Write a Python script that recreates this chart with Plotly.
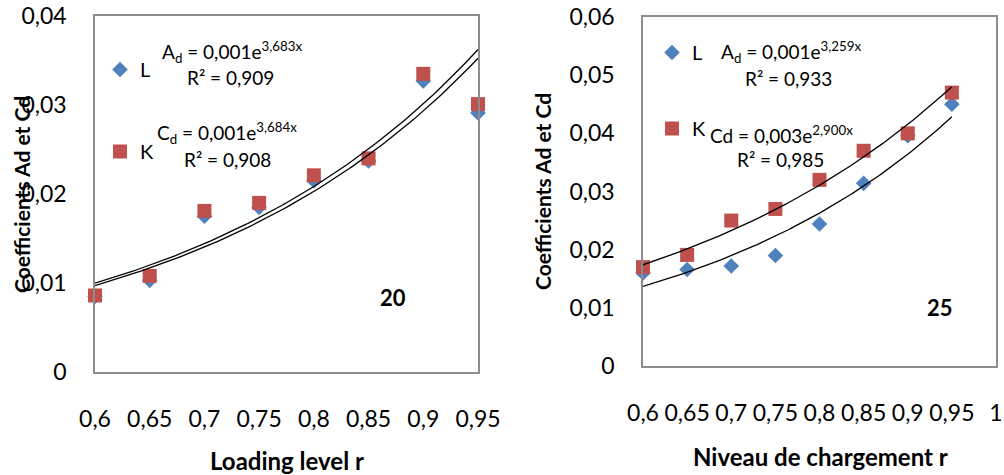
import numpy as np
import plotly.graph_objects as go

# Loading level r (shared by both panels)
r_values = [0.60, 0.65, 0.70, 0.75, 0.80, 0.85, 0.90, 0.95]

# Panel "20": coefficients Ad (L) and Cd (K)
ad_20 = [0.0085, 0.0103, 0.0175, 0.0185, 0.0215, 0.0237, 0.0327, 0.0291]
cd_20 = [0.0086, 0.0108, 0.0181, 0.0190, 0.0221, 0.0240, 0.0335, 0.0301]

# Panel "25": coefficients Ad (L) and Cd (K)
ad_25 = [0.0160, 0.0166, 0.0172, 0.0190, 0.0244, 0.0314, 0.0396, 0.0450]
cd_25 = [0.0170, 0.0191, 0.0250, 0.0270, 0.0320, 0.0370, 0.0400, 0.0470]

# Exponential trendline exponents (y = a * exp(b * r))
b_20 = [3.683, 3.684]
b_25 = [3.259, 2.900]

# Tick labels
x_ticks_20 = [0.60, 0.65, 0.70, 0.75, 0.80, 0.85, 0.90, 0.95]
x_text_20 = ["0,6", "0,65", "0,7", "0,75", "0,8", "0,85", "0,9", "0,95"]
y_ticks_20 = [0, 0.01, 0.02, 0.03, 0.04]
y_text_20 = ["0", "0,01", "0,02", "0,03", "0,04"]
x_ticks_25 = [0.60, 0.65, 0.70, 0.75, 0.80, 0.85, 0.90, 0.95, 1.0]
x_text_25 = ["0,6", "0,65", "0,7", "0,75", "0,8", "0,85", "0,9", "0,95", "1"]
y_ticks_25 = [0, 0.01, 0.02, 0.03, 0.04, 0.05, 0.06]
y_text_25 = ["0", "0,01", "0,02", "0,03", "0,04", "0,05", "0,06"]

BLUE = "#4F81BD"
RED = "#C0504D"
FONT = "Lato"
W, H = 1004, 475


def exp_trend(x, y, b):
    """Least-squares prefactor for y = a*exp(b*x) in log space."""
    x = np.asarray(x)
    y = np.asarray(y)
    a = np.exp(np.mean(np.log(y) - b * x))
    xs = np.linspace(x.min(), x.max(), 120)
    return xs, a * np.exp(b * xs)


def px_x(p):
    return p / W


def px_y(p):
    return 1 - p / H


fig = go.Figure()

panels = [
    ("x", "y", "legend", ad_20, cd_20, b_20),
    ("x2", "y2", "legend2", ad_25, cd_25, b_25),
]
for xa, ya, leg, ad, cd, bs in panels:
    fig.add_trace(go.Scatter(
        x=r_values, y=ad, mode="markers", name="L", legendgroup="L" + xa,
        legend=leg, xaxis=xa, yaxis=ya, cliponaxis=False,
        marker=dict(symbol="diamond", size=12, color=BLUE)))
    fig.add_trace(go.Scatter(
        x=r_values, y=cd, mode="markers", name="K", legendgroup="K" + xa,
        legend=leg, xaxis=xa, yaxis=ya, cliponaxis=False,
        marker=dict(symbol="square", size=14, color=RED)))
    for series, b in zip((ad, cd), bs):
        tx, ty = exp_trend(r_values, series, b)
        fig.add_trace(go.Scatter(
            x=tx, y=ty, mode="lines", showlegend=False, xaxis=xa, yaxis=ya,
            hoverinfo="skip", line=dict(color="black", width=1.3)))

axis_common = dict(
    showgrid=False, zeroline=False, showline=True, linecolor="#8c8c8c",
    linewidth=1.5, mirror=True, ticks="", tickmode="array", automargin=False,
    tickfont=dict(family=FONT, size=23, color="black"),
)

fig.update_layout(
    template="none",
    width=W, height=H,
    margin=dict(l=0, r=0, t=0, b=0, pad=0, autoexpand=False),
    paper_bgcolor="white", plot_bgcolor="white",
    font=dict(family=FONT, color="black"),
    xaxis=dict(axis_common, domain=[px_x(95), px_x(478)], range=[0.6, 0.95],
               tickvals=x_ticks_20, ticktext=x_text_20, anchor="y",
               ticklabelstandoff=26),
    yaxis=dict(axis_common, domain=[px_y(372), px_y(16)], range=[0, 0.04],
               tickvals=y_ticks_20, ticktext=y_text_20, anchor="x",
               ticklabelstandoff=22),
    xaxis2=dict(axis_common, domain=[px_x(643), px_x(996)], range=[0.6, 1.0],
                tickvals=x_ticks_25, ticktext=x_text_25, anchor="y2",
                ticklabelstandoff=26),
    yaxis2=dict(axis_common, domain=[px_y(366), px_y(17)], range=[0, 0.06],
                tickvals=y_ticks_25, ticktext=y_text_25, anchor="x2",
                ticklabelstandoff=22),
    legend=dict(x=px_x(100), y=px_y(50), xanchor="left", yanchor="top",
                traceorder="grouped", tracegroupgap=53, borderwidth=0,
                bgcolor="rgba(0,0,0,0)", font=dict(family=FONT, size=20)),
    legend2=dict(x=px_x(652), y=px_y(33), xanchor="left", yanchor="top",
                 traceorder="grouped", tracegroupgap=47, borderwidth=0,
                 bgcolor="rgba(0,0,0,0)", font=dict(family=FONT, size=20)),
    showlegend=True,
)

eq_font = dict(family=FONT, size=19, color="black")
annotations = [
    # panel 20 trendline equations
    dict(x=px_x(160), y=px_y(52), text="A<sub>d</sub> = 0,001e<sup>3,683x</sup>",
         xanchor="left", font=eq_font),
    dict(x=px_x(230), y=px_y(77), text="R² = 0,909", xanchor="center", font=eq_font),
    dict(x=px_x(155), y=px_y(133), text="C<sub>d</sub> = 0,001e<sup>3,684x</sup>",
         xanchor="left", font=eq_font),
    dict(x=px_x(227), y=px_y(159), text="R² = 0,908", xanchor="center", font=eq_font),
    # panel 25 trendline equations
    dict(x=px_x(719), y=px_y(52), text="A<sub>d</sub> = 0,001e<sup>3,259x</sup>",
         xanchor="left", font=eq_font),
    dict(x=px_x(788), y=px_y(79), text="R² = 0,933", xanchor="center", font=eq_font),
    dict(x=px_x(708), y=px_y(134), text="Cd = 0,003e<sup>2,900x</sup>",
         xanchor="left", font=eq_font),
    dict(x=px_x(780), y=px_y(160), text="R² = 0,985", xanchor="center", font=eq_font),
    # panel labels
    dict(x=px_x(393), y=px_y(297), text="<b>20</b>", xanchor="center",
         font=dict(family=FONT, size=22, color="black")),
    dict(x=px_x(940), y=px_y(307), text="<b>25</b>", xanchor="center",
         font=dict(family=FONT, size=22, color="black")),
    # axis titles
    dict(x=px_x(287), y=px_y(460), text="<b>Loading level r</b>", xanchor="center",
         font=dict(family=FONT, size=24, color="black")),
    dict(x=px_x(820), y=px_y(456), text="<b>Niveau de chargement r</b>",
         xanchor="center", font=dict(family=FONT, size=24, color="black")),
    dict(x=px_x(22), y=px_y(195), text="<b>Coefficients Ad et Cd</b>", textangle=-90,
         xanchor="center", yanchor="middle", font=dict(family=FONT, size=21, color="black")),
    dict(x=px_x(542), y=px_y(192), text="<b>Coefficients Ad et Cd</b>", textangle=-90,
         xanchor="center", yanchor="middle", font=dict(family=FONT, size=21, color="black")),
]
for a in annotations:
    a.setdefault("yanchor", "middle")
    a.update(xref="paper", yref="paper", showarrow=False)
fig.update_layout(annotations=annotations)

fig.write_html("out.html")
